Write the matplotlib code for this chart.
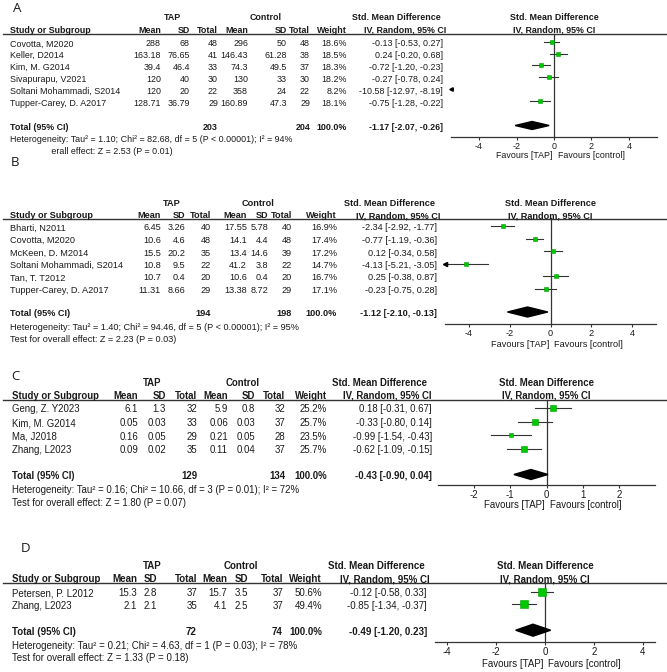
import matplotlib
matplotlib.use("Agg")
import matplotlib.pyplot as plt
from matplotlib.patches import Rectangle

plt.rcParams['font.family'] = ['Liberation Sans', 'DejaVu Sans']
plt.rcParams['axes.unicode_minus'] = False

W, H = 667, 672

# ---------------- data ----------------
# A
a_study = ["Covotta, M2020", "Keller, D2014", "Kim, M. G2014", "Sivapurapu, V2021",
           "Soltani Mohammadi, S2014", "Tupper-Carey, D. A2017"]
a_tap_mean = ["288", "163.18", "39.4", "120", "120", "128.71"]
a_tap_sd = ["68", "76.65", "46.4", "40", "20", "36.79"]
a_tap_n = ["48", "41", "33", "30", "22", "29"]
a_ctl_mean = ["296", "146.43", "74.3", "130", "358", "160.89"]
a_ctl_sd = ["50", "61.28", "49.5", "33", "24", "47.3"]
a_ctl_n = ["48", "38", "37", "30", "22", "29"]
a_weight = [18.6, 18.5, 18.3, 18.2, 8.2, 18.1]
a_smd = [-0.13, 0.24, -0.72, -0.27, -10.58, -0.75]
a_lo = [-0.53, -0.20, -1.20, -0.78, -12.97, -1.28]
a_hi = [0.27, 0.68, -0.23, 0.24, -8.19, -0.22]
a_total = ["203", "204"]
a_pooled = [-1.17, -2.07, -0.26]
a_het = "Tau² = 1.10; Chi² = 82.68, df = 5 (P < 0.00001); I² = 94%"
a_z = "Z = 2.53 (P = 0.01)"

# B
b_study = ["Bharti, N2011", "Covotta, M2020", "McKeen, D. M2014",
           "Soltani Mohammadi, S2014", "Tan, T. T2012", "Tupper-Carey, D. A2017"]
b_tap_mean = ["6.45", "10.6", "15.5", "10.8", "10.7", "11.31"]
b_tap_sd = ["3.26", "4.6", "20.2", "9.5", "0.4", "8.66"]
b_tap_n = ["40", "48", "35", "22", "20", "29"]
b_ctl_mean = ["17.55", "14.1", "13.4", "41.2", "10.6", "13.38"]
b_ctl_sd = ["5.78", "4.4", "14.6", "3.8", "0.4", "8.72"]
b_ctl_n = ["40", "48", "39", "22", "20", "29"]
b_weight = [16.9, 17.4, 17.2, 14.7, 16.7, 17.1]
b_smd = [-2.34, -0.77, 0.12, -4.13, 0.25, -0.23]
b_lo = [-2.92, -1.19, -0.34, -5.21, -0.38, -0.75]
b_hi = [-1.77, -0.36, 0.58, -3.05, 0.87, 0.28]
b_total = ["194", "198"]
b_pooled = [-1.12, -2.10, -0.13]
b_het = "Tau² = 1.40; Chi² = 94.46, df = 5 (P < 0.00001); I² = 95%"
b_z = "Z = 2.23 (P = 0.03)"

# C
c_study = ["Geng, Z. Y2023", "Kim, M. G2014", "Ma, J2018", "Zhang, L2023"]
c_tap_mean = ["6.1", "0.05", "0.16", "0.09"]
c_tap_sd = ["1.3", "0.03", "0.05", "0.02"]
c_tap_n = ["32", "33", "29", "35"]
c_ctl_mean = ["5.9", "0.06", "0.21", "0.11"]
c_ctl_sd = ["0.8", "0.03", "0.05", "0.04"]
c_ctl_n = ["32", "37", "28", "37"]
c_weight = [25.2, 25.7, 23.5, 25.7]
c_smd = [0.18, -0.33, -0.99, -0.62]
c_lo = [-0.31, -0.80, -1.54, -1.09]
c_hi = [0.67, 0.14, -0.43, -0.15]
c_total = ["129", "134"]
c_pooled = [-0.43, -0.90, 0.04]
c_het = "Tau² = 0.16; Chi² = 10.66, df = 3 (P = 0.01); I² = 72%"
c_z = "Z = 1.80 (P = 0.07)"

# D
d_study = ["Petersen, P. L2012", "Zhang, L2023"]
d_tap_mean = ["15.3", "2.1"]
d_tap_sd = ["2.8", "2.1"]
d_tap_n = ["37", "35"]
d_ctl_mean = ["15.7", "4.1"]
d_ctl_sd = ["3.5", "2.5"]
d_ctl_n = ["37", "37"]
d_weight = [50.6, 49.4]
d_smd = [-0.12, -0.85]
d_lo = [-0.58, -1.34]
d_hi = [0.33, -0.37]
d_total = ["72", "74"]
d_pooled = [-0.49, -1.20, 0.23]
d_het = "Tau² = 0.21; Chi² = 4.63, df = 1 (P = 0.03); I² = 78%"
d_z = "Z = 1.33 (P = 0.18)"

# ---------------- layout (pixels) ----------------
lay_a = dict(fs=6.4, label=(17, 8), grp_y=18, tap_cx=172, ctl_cx=266, hdr_y=30.5, line_y=34,
             cols=[161, 190, 218, 248, 287, 310, 347], study_x=10, smd_x=443, smd_cx=(396, 405),
             rows=[44, 55.5, 67, 79, 91, 103], tot_y=127, het_y=139, z_y=151, mk_dy=-1.5,
             fx=(451, 657), xl=(-5.5, 5.5), ticks=[-4, -2, 0, 2, 4], ax_y=137, fav_y=155,
             dh=4, k=0.9)
lay_b = dict(fs=6.6, label=(15, 163), grp_y=203, tap_cx=172, ctl_cx=258, hdr_y=215.5, line_y=218.5,
             cols=[161, 185, 211, 247, 268, 292, 337], study_x=10, smd_x=437, smd_cx=(389, 398),
             rows=[228, 240.5, 253, 265.5, 278, 290.5], tot_y=313.5, het_y=327.5, z_y=339.5, mk_dy=-1.5,
             fx=(445, 656), xl=(-5.15, 5.15), ticks=[-4, -2, 0, 2, 4], ax_y=324.3, fav_y=345,
             dh=5, k=0.85)
lay_c = dict(fs=6.95, label=(15, 376), grp_y=383, tap_cx=152, ctl_cx=243, hdr_y=396, line_y=400,
             cols=[138, 166, 197, 228, 255, 285, 327], study_x=12, smd_x=432, smd_cx=(379, 387),
             rows=[409.3, 423, 436.7, 450.3], tot_y=476, het_y=490, z_y=503.5, mk_dy=-1.5,
             fx=(438, 655), xl=(-3.0, 3.0), ticks=[-2, -1, 0, 1, 2], ax_y=485, fav_y=505,
             dh=5, k=1.0)
lay_d = dict(fs=7.05, label=(25, 548), grp_y=565.7, tap_cx=152, ctl_cx=241, hdr_y=579, line_y=583.3,
             cols=[137, 157, 197, 227, 248, 283, 322], study_x=12, smd_x=427, smd_cx=(376, 385),
             rows=[593.3, 605.7], tot_y=631.7, het_y=645.7, z_y=658.3, mk_dy=-1.5,
             fx=(435, 655), xl=(-4.5, 4.5), ticks=[-4, -2, 0, 2, 4], ax_y=641.7, fav_y=664,
             dh=6, k=1.17)

TXT = "#1a1a1a"
LINE = "#333333"
GREEN = "#00c800"


def ci_text(m, lo, hi):
    return f"{m:.2f} [{lo:.2f}, {hi:.2f}]"


def draw_panel(fig, base, lay, label, study, cols, weight, smd, lo, hi, total, pooled, het, z):
    fs = lay['fs']
    base.text(*lay['label'], label, fontsize=9.5, family='Open Sans', ha='center', va='center',
              color=TXT, zorder=6)
    base.text(lay['tap_cx'], lay['grp_y'], "TAP", fontsize=fs, weight='bold', ha='center', va='center', color=TXT)
    base.text(lay['ctl_cx'], lay['grp_y'], "Control", fontsize=fs, weight='bold', ha='center', va='center', color=TXT)
    base.text(lay['smd_cx'][0], lay['grp_y'], "Std. Mean Difference", fontsize=fs, weight='bold',
              ha='center', va='center', color=TXT)
    base.text(lay['smd_cx'][1], lay['hdr_y'], "IV, Random, 95% CI", fontsize=fs, weight='bold',
              ha='center', va='center', color=TXT)
    base.text(lay['study_x'], lay['hdr_y'], "Study or Subgroup", fontsize=fs, weight='bold',
              ha='left', va='center', color=TXT)
    for x, h in zip(lay['cols'], ["Mean", "SD", "Total", "Mean", "SD", "Total", "Weight"]):
        base.text(x, lay['hdr_y'], h, fontsize=fs, weight='bold', ha='right', va='center', color=TXT)
    base.plot([3, W], [lay['line_y'], lay['line_y']], color=LINE, lw=1.0)

    for i, name in enumerate(study):
        y = lay['rows'][i]
        base.text(lay['study_x'], y, name, fontsize=fs, ha='left', va='center', color=TXT)
        vals = [c[i] for c in cols] + [f"{weight[i]:.1f}%"]
        for x, v in zip(lay['cols'], vals):
            base.text(x, y, v, fontsize=fs, ha='right', va='center', color=TXT)
        base.text(lay['smd_x'], y, ci_text(smd[i], lo[i], hi[i]), fontsize=fs, ha='right', va='center', color=TXT)

    ty = lay['tot_y']
    base.text(lay['study_x'], ty, "Total (95% CI)", fontsize=fs, weight='bold', ha='left', va='center', color=TXT)
    base.text(lay['cols'][2], ty, total[0], fontsize=fs, weight='bold', ha='right', va='center', color=TXT)
    base.text(lay['cols'][5], ty, total[1], fontsize=fs, weight='bold', ha='right', va='center', color=TXT)
    base.text(lay['cols'][6], ty, "100.0%", fontsize=fs, weight='bold', ha='right', va='center', color=TXT)
    base.text(lay['smd_x'], ty, ci_text(*pooled), fontsize=fs, weight='bold', ha='right', va='center', color=TXT)
    base.text(lay['study_x'], lay['het_y'], "Heterogeneity: " + het, fontsize=fs, ha='left', va='center', color=TXT)
    base.text(lay['study_x'], lay['z_y'], "Test for overall effect: " + z, fontsize=fs, ha='left', va='center', color=TXT)

    # forest plot part
    x0, x1 = lay['fx']
    top, ay = lay['line_y'], lay['ax_y']
    fa = fig.add_axes([x0 / W, 1 - ay / H, (x1 - x0) / W, (ay - top) / H])
    fa.set_xlim(*lay['xl'])
    fa.set_ylim(ay, top)
    fa.patch.set_visible(False)
    for s in ['top', 'right', 'left']:
        fa.spines[s].set_visible(False)
    fa.spines['bottom'].set_color(LINE)
    fa.spines['bottom'].set_linewidth(0.9)
    fa.set_yticks([])
    fa.set_xticks(lay['ticks'])
    fa.set_xticklabels([str(t) for t in lay['ticks']], fontsize=fs, color=TXT)
    fa.tick_params(axis='x', length=2.5, width=0.8, color=LINE, pad=1)
    ppu = (x1 - x0) / (lay['xl'][1] - lay['xl'][0])

    fa.plot([0, 0], [top, ay], color=LINE, lw=0.9, clip_on=False)
    fa.text(0, lay['grp_y'], "Std. Mean Difference", fontsize=fs, weight='bold', ha='center',
            va='center', color=TXT, clip_on=False)
    fa.text(0, lay['hdr_y'], "IV, Random, 95% CI", fontsize=fs, weight='bold', ha='center',
            va='center', color=TXT, clip_on=False)
    fa.text(-1.5 / ppu, lay['fav_y'], "Favours [TAP]", fontsize=fs, ha='right', va='center', color=TXT)
    fa.text(3.5 / ppu, lay['fav_y'], "Favours [control]", fontsize=fs, ha='left', va='center', color=TXT)

    xmin = lay['xl'][0]
    for i in range(len(study)):
        y = lay['rows'][i] + lay['mk_dy']
        if hi[i] < xmin:
            fa.plot(xmin, y, marker='<', ms=2.5, color='black', clip_on=False)
            continue
        left = max(lo[i], xmin)
        fa.plot([left, hi[i]], [y, y], color=LINE, lw=0.8)
        if lo[i] < xmin:
            fa.plot(xmin, y, marker='<', ms=3, color='black', clip_on=False)
        if smd[i] >= xmin:
            side = lay['k'] * weight[i] ** 0.5 * 0.72
            fa.plot(smd[i], y, marker='s', ms=side, mfc=GREEN, mec='#00a000', mew=0.4, zorder=3)

    m, l, h = pooled
    py = ty + lay['mk_dy']
    dh = lay['dh']
    fa.fill([l, m, h, m], [py, py - dh, py, py + dh], color='black', clip_on=False, zorder=3)
    return fa


fig = plt.figure(figsize=(W / 100, H / 100), dpi=100)
base = fig.add_axes([0, 0, 1, 1])
base.set_xlim(0, W)
base.set_ylim(H, 0)
base.axis('off')

draw_panel(fig, base, lay_a, "A", a_study,
           [a_tap_mean, a_tap_sd, a_tap_n, a_ctl_mean, a_ctl_sd, a_ctl_n],
           a_weight, a_smd, a_lo, a_hi, a_total, a_pooled, a_het, a_z)
# panel B label box hides the start of A's last line
base.add_patch(Rectangle((0, 144), 51, 34, facecolor='white', edgecolor='none', zorder=5))
draw_panel(fig, base, lay_b, "B", b_study,
           [b_tap_mean, b_tap_sd, b_tap_n, b_ctl_mean, b_ctl_sd, b_ctl_n],
           b_weight, b_smd, b_lo, b_hi, b_total, b_pooled, b_het, b_z)
draw_panel(fig, base, lay_c, "C", c_study,
           [c_tap_mean, c_tap_sd, c_tap_n, c_ctl_mean, c_ctl_sd, c_ctl_n],
           c_weight, c_smd, c_lo, c_hi, c_total, c_pooled, c_het, c_z)
draw_panel(fig, base, lay_d, "D", d_study,
           [d_tap_mean, d_tap_sd, d_tap_n, d_ctl_mean, d_ctl_sd, d_ctl_n],
           d_weight, d_smd, d_lo, d_hi, d_total, d_pooled, d_het, d_z)

fig.savefig("out.png", dpi=100)
